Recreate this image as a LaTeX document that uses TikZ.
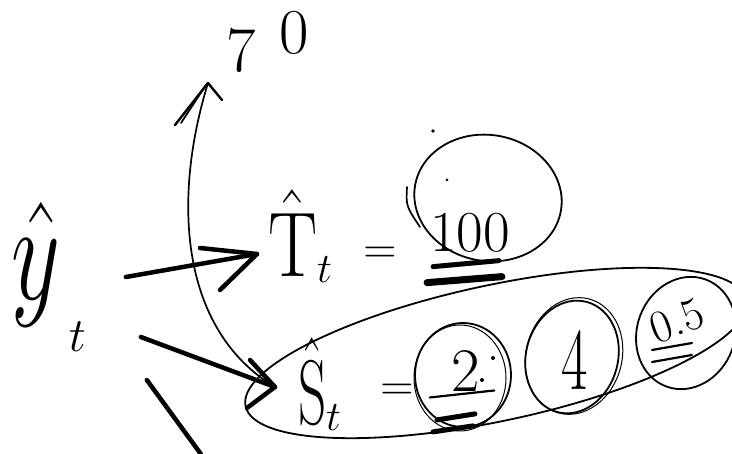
\RequirePackage{fix-cm}
\documentclass[tikz,border=0pt]{standalone}
\usetikzlibrary{calc,shapes.geometric}
\begin{document}
\begin{tikzpicture}[x=1pt,y=-1pt,
  pen/.style={line width=1.7pt,line cap=round,line join=round},
  marker/.style={line width=4.5pt,line cap=round,line join=round},
  ell/.style={draw,ellipse,line width=1.8pt,inner sep=0pt},
  txt/.style={inner sep=0pt,outer sep=0pt}]
\useasboundingbox (0,0) rectangle (732,454);

% texts
\node[txt,anchor=base west] (y) at (12,300)
  {\scalebox{0.68}[1]{\fontsize{140}{140}\selectfont$\hat{y}$}\hspace{8pt}\raisebox{-52pt}{\fontsize{48}{48}\selectfont$t$}};
\node[txt,anchor=base west] (T) at (268,277)
  {\scalebox{0.8}[1]{\fontsize{92}{92}\selectfont$\hat{\mathrm{T}}$}\raisebox{-6pt}{\fontsize{42}{42}\selectfont$t$}};
\node[txt] (eqT) at (380,255) {\fontsize{46}{46}\selectfont$=$};
\node[txt] (n100) at (470,233) {\fontsize{58}{58}\selectfont 100};
\node[txt,anchor=base west] (S) at (298,425)
  {\scalebox{0.6}[1]{\fontsize{92}{92}\selectfont$\hat{\mathrm{S}}$}\raisebox{-6pt}{\fontsize{42}{42}\selectfont$t$}};
\node[txt] (eqS) at (397,392) {\fontsize{46}{46}\selectfont$=$};
\node[txt] (n2) at (466,371) {\fontsize{62}{62}\selectfont 2};
\node[txt] (n4) at (575,360) {\scalebox{0.65}[1]{\fontsize{88}{88}\selectfont 4}};
\node[txt,rotate=20] (n05) at (677,321) {\fontsize{46}{46}\selectfont 0.5};
\node[txt,anchor=base west] (n70) at (226,72)
  {\fontsize{64}{64}\selectfont 7\hspace{24pt}\raisebox{18pt}{0}};

% circles
\node[ell,minimum width=148pt,minimum height=126pt,rotate=-10] (c100) at (488,198) {};
\node[ell,minimum width=96pt,minimum height=104pt] (c2) at (463,375) {};
\node[ell,line width=1pt,minimum width=92pt,minimum height=106pt] (c2b) at (460,378) {};
\node[ell,minimum width=92pt,minimum height=114pt,rotate=-15] (c4) at (572,357) {};
\node[ell,line width=1pt,minimum width=96pt,minimum height=118pt,rotate=-15] (c4b) at (574,356) {};
\node[ell,minimum width=98pt,minimum height=114pt,rotate=-20] (c05) at (686,333) {};
\node[ell,minimum width=512pt,minimum height=136pt,rotate=12] (grp) at (496,353) {};

% stray marks near 100
\draw[pen] ($(c100.center)+(-81,-11)$) .. controls ($(c100.center)+(-82,8)$) .. ($(c100.center)+(-68,29)$);
\fill ($(n100.center)+(-37,-102)$) circle (1.8pt);
\fill ($(n100.center)+(-23,-53)$) circle (1.5pt);

% underlines
\draw[marker,line width=5pt] ($(n100.south west)+(3,14)$) -- ($(n100.south east)+(-11,8)$);
\draw[marker,line width=7pt] ($(n100.south west)+(-3,30)$) -- ($(n100.south east)+(-8,24)$);
\draw[pen,line width=2.2pt] ($(n2.south west)+(-22,6)$) -- ($(n2.south east)+(14,-1)$);
\draw[marker,line width=5pt] ($(c2.south)+(-26,-8)$) -- ($(c2.south)+(12,-14)$);
\draw[marker,line width=5pt] ($(c2.south)+(-30,4)$) -- ($(c2.south)+(10,-2)$);
\fill ($(c2.center)+(30,-17)$) circle (2pt);
\fill ($(c2.center)+(19,5)$) circle (2pt);
\draw[pen,line width=2.2pt] ($(n05.center)+(-25,29)$) -- ($(n05.center)+(15,22)$);
\draw[pen,line width=2.2pt] ($(n05.center)+(-25,41)$) -- ($(n05.center)+(15,34)$);

% arrow y -> T
\coordinate (tipT) at ($(T.base west)+(-11,-23)$);
\draw[marker] ($(y.base east)+(40,-23)$) -- (tipT);
\draw[marker] ($(tipT)+(-57,-6)$) -- (tipT) -- ($(tipT)+(-37,36)$);

% arrow y -> S
\coordinate (tipS) at ($(S.base west)+(-23,-38)$);
\draw[marker] ($(y.base east)+(55,37)$) -- (tipS);
\draw[marker] ($(tipS)+(-25,-27)$) -- (tipS) -- ($(tipS)+(-28,21)$);

% lower stroke
\draw[marker] ($(y.base east)+(61,80)$) -- ($(y.base east)+(115,154)$);

% thin curve from S to 70
\coordinate (tip70) at ($(n70.base west)+(-18,11)$);
\draw[pen] (tip70) .. controls ($(tip70)+(-36,117)$) and ($(tip70)+(-28,247)$) .. (tipS);
\draw[pen,line width=2.4pt] ($(tip70)+(-33,42)$) -- (tip70) -- ($(tip70)+(14,17)$);
\draw[pen] ($(tip70)+(-27,40)$) -- ($(tip70)+(-2,2)$);
\end{tikzpicture}
\end{document}
